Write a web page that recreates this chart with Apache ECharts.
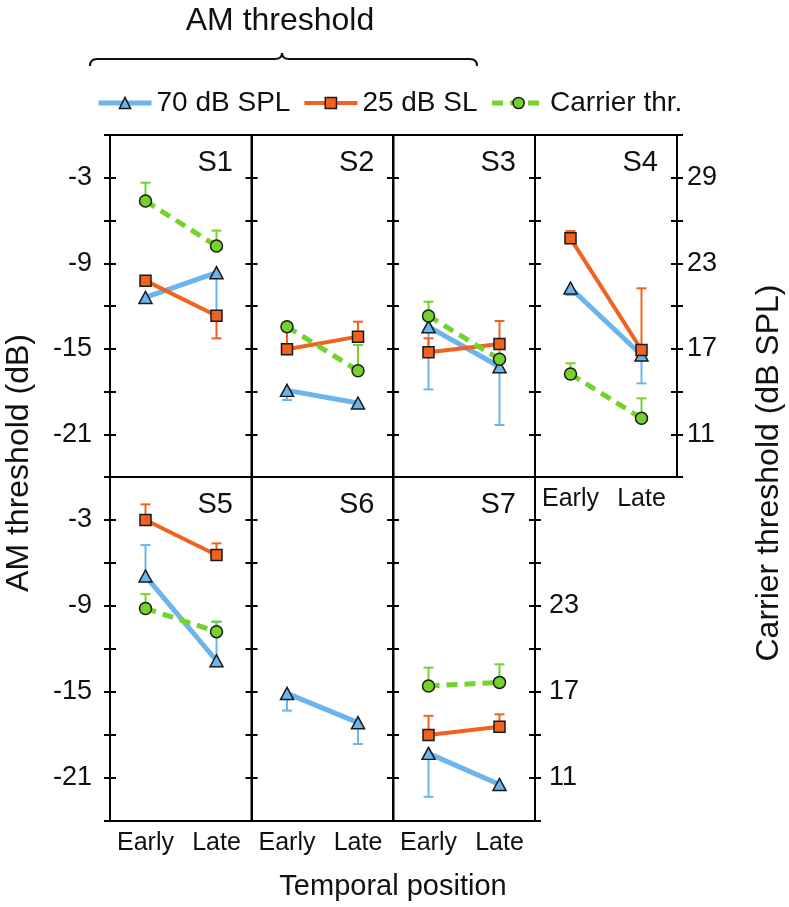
<!DOCTYPE html>
<html>
<head>
<meta charset="utf-8">
<script src="https://cdn.jsdelivr.net/npm/echarts@6/dist/echarts.min.js"></script>
<style>html,body{margin:0;padding:0;background:#fff}#c{width:789px;height:907px}</style>
</head>
<body>
<div id="c"></div>
<script>
// ---------- data ----------
const categories = ['Early', 'Late'];
const subjects = ['S1', 'S2', 'S3', 'S4', 'S5', 'S6', 'S7'];
const seriesNames = ['70 dB SPL', '25 dB SL', 'Carrier thr.'];
// AM threshold (dB), 70 dB SPL carrier
const am70 = [[-11.4, -9.66], [-17.92, -18.81], [-13.45, -16.26], [-10.74, -15.44], [-6.91, -12.82], [-15.1, -17.14], [-19.28, -21.45]];
const am70Err = [[null, -12.4], [-18.6, null], [-17.85, -20.35], [-11.23, -17.43], [-4.75, -10.1], [-16.3, -18.63], [-22.31, -21.84]];
// AM threshold (dB), 25 dB SL carrier
const am25 = [[-10.22, -12.68], [-15.04, -14.15], [-15.25, -14.67], [-7.25, -15.09], [-3.0, -5.44], null, [-18.0, -17.42]];
const am25Err = [[null, -14.27], [-13.6, -13.1], [-14.27, -13.05], [-6.74, -10.76], [-1.91, -4.63], null, [-16.66, -16.56]];
// Carrier threshold (dB SPL)
const carrier = [[27.37, 24.21], [18.55, 15.46], [19.3, 16.26], [15.23, 12.12], [22.83, 21.21], null, [17.42, 17.67]];
const carrierErr = [[28.65, 25.29], [null, 17.26], [20.3, 17.0], [15.98, 13.52], [23.83, 21.91], null, [18.7, 18.93]];
// tick labels
const amTickLabels = [-3, -9, -15, -21];
const carrierTickLabels = [11, 17, 23, 29];

// ---------- styling / layout ----------
const FONT = 'Liberation Sans';
const INK = '#111';
const colors = ['#6cb4ee', '#f0621f', '#74d22a'];
const lineWidths = [5, 4, 5];
const lineTypes = ['solid', 'solid', [11, 7]];
const colLeft = [110, 251.5, 393, 535];
const colW = 142;
const rowTop = [135, 477];
const rowH = [342, 344];

const chart = echarts.init(document.getElementById('c'), null, {renderer: 'canvas'});

const grids = [], xAxes = [], yAxes = [], series = [], graphics = [];

function errRenderer(color) {
  return function (params, api) {
    const p0 = api.coord([api.value(0), api.value(1)]);
    const p1 = api.coord([api.value(0), api.value(2)]);
    const hw = 5;
    return {
      type: 'group',
      children: [
        {type: 'line', shape: {x1: p0[0], y1: p0[1], x2: p1[0], y2: p1[1]}, style: {stroke: color, lineWidth: 2}},
        {type: 'line', shape: {x1: p1[0] - hw, y1: p1[1], x2: p1[0] + hw, y2: p1[1]}, style: {stroke: color, lineWidth: 2}}
      ]
    };
  };
}

subjects.forEach((s, p) => {
  const row = p < 4 ? 0 : 1;
  const col = p < 4 ? p : p - 4;
  grids.push({left: colLeft[col], top: rowTop[row], width: colW, height: rowH[row],
    show: true, borderColor: '#000', borderWidth: 2, backgroundColor: 'transparent'});
  xAxes.push({
    type: 'category', gridIndex: p, data: categories, boundaryGap: true,
    axisLine: {show: false}, axisTick: {show: false}, splitLine: {show: false},
    axisLabel: {show: p >= 3, fontSize: 25, fontFamily: FONT, color: INK, margin: 10, interval: 0}
  });
  const base = yAxes.length;
  yAxes.push({
    type: 'value', gridIndex: p, position: 'left', min: -24, max: 0, interval: 3,
    axisLine: {show: false}, splitLine: {show: false},
    axisTick: {show: true, inside: false, length: 6, lineStyle: {color: '#000', width: 2}},
    axisLabel: {show: col === 0, fontSize: 27, fontFamily: FONT, color: INK, margin: 18,
      formatter: v => amTickLabels.includes(v) ? String(v) : ''}
  });
  yAxes.push({
    type: 'value', gridIndex: p, position: 'left', min: -24, max: 0, interval: 3,
    axisLine: {show: false}, splitLine: {show: false}, axisLabel: {show: false},
    axisTick: {show: true, inside: true, length: 6, lineStyle: {color: '#000', width: 2}}
  });
  const rightShow = (p === 3 || p === 6);
  const rightLabels = p === 3 ? carrierTickLabels : carrierTickLabels.slice(0, 3);
  yAxes.push({
    type: 'value', gridIndex: p, position: 'right', min: 8, max: 32, interval: 3,
    axisLine: {show: false}, splitLine: {show: false},
    axisTick: {show: rightShow, inside: false, length: 6, lineStyle: {color: '#000', width: 2}},
    axisLabel: {show: rightShow, fontSize: 27, fontFamily: FONT, color: INK, margin: p === 3 ? 10 : 14,
      formatter: v => rightLabels.includes(v) ? String(v) : ''}
  });
  yAxes.push({
    type: 'value', gridIndex: p, position: 'right', min: 8, max: 32, interval: 3,
    axisLine: {show: false}, splitLine: {show: false}, axisLabel: {show: false},
    axisTick: {show: rightShow, inside: true, length: 6, lineStyle: {color: '#000', width: 2}}
  });

  const groups = [
    {vals: am70[p], errs: am70Err[p], yIdx: base, symbol: 'triangle', size: [13, 12]},
    {vals: am25[p], errs: am25Err[p], yIdx: base, symbol: 'rect', size: 11},
    {vals: carrier[p], errs: carrierErr[p], yIdx: base + 2, symbol: 'circle', size: 12}
  ];
  groups.forEach((g, gi) => {
    if (!g.vals) return;
    const errData = [];
    g.errs.forEach((e, i) => { if (e !== null) errData.push([i, g.vals[i], e]); });
    series.push({
      type: 'custom', name: 'err' + gi, xAxisIndex: p, yAxisIndex: g.yIdx, z: 1,
      renderItem: errRenderer(colors[gi]), data: errData, encode: {x: 0, y: [1, 2]}, silent: true
    });
    series.push({
      type: 'line', name: seriesNames[gi], xAxisIndex: p, yAxisIndex: g.yIdx, z: 2 + gi,
      data: g.vals, symbol: g.symbol, symbolSize: g.size, showSymbol: true,
      lineStyle: {color: colors[gi], width: lineWidths[gi], type: lineTypes[gi]},
      itemStyle: {color: colors[gi], borderColor: '#1a1a1a', borderWidth: 1.5},
      emphasis: {disabled: true}, animation: false
    });
  });

  graphics.push({
    type: 'text', x: colLeft[col] + colW - 19, y: rowTop[row] + 28,
    style: {text: s, fontSize: 29, fontFamily: FONT, fill: INK, textAlign: 'right', textVerticalAlign: 'middle'}
  });
});

// titles & brace
const braceStyle = {stroke: INK, lineWidth: 2, fill: null};
graphics.push({type: 'text', x: 280, y: 21,
  style: {text: 'AM threshold', fontSize: 32, fontFamily: FONT, fill: INK, textAlign: 'center', textVerticalAlign: 'middle'}});
graphics.push({type: 'bezierCurve', shape: {x1: 90, y1: 66, cpx1: 90, cpy1: 59, x2: 97, y2: 59}, style: braceStyle});
graphics.push({type: 'line', shape: {x1: 97, y1: 59, x2: 275, y2: 59}, style: braceStyle});
graphics.push({type: 'bezierCurve', shape: {x1: 275, y1: 59, cpx1: 282, cpy1: 59, x2: 282, y2: 53}, style: braceStyle});
graphics.push({type: 'bezierCurve', shape: {x1: 282, y1: 53, cpx1: 282, cpy1: 59, x2: 289, y2: 59}, style: braceStyle});
graphics.push({type: 'line', shape: {x1: 289, y1: 59, x2: 470, y2: 59}, style: braceStyle});
graphics.push({type: 'bezierCurve', shape: {x1: 470, y1: 59, cpx1: 477, cpy1: 59, x2: 477, y2: 66}, style: braceStyle});
graphics.push({type: 'text', x: 19, y: 463, rotation: Math.PI / 2,
  style: {text: 'AM threshold (dB)', fontSize: 32, fontFamily: FONT, fill: INK, textAlign: 'center', textVerticalAlign: 'middle'}});
graphics.push({type: 'text', x: 769, y: 473, rotation: Math.PI / 2,
  style: {text: 'Carrier threshold (dB SPL)', fontSize: 32, fontFamily: FONT, fill: INK, textAlign: 'center', textVerticalAlign: 'middle'}});
graphics.push({type: 'text', x: 393, y: 887,
  style: {text: 'Temporal position', fontSize: 29, fontFamily: FONT, fill: INK, textAlign: 'center', textVerticalAlign: 'middle'}});

chart.setOption({
  animation: false,
  backgroundColor: '#fff',
  grid: grids,
  xAxis: xAxes,
  yAxis: yAxes,
  series: series,
  legend: {
    data: seriesNames.map((n, i) => ({name: n, lineStyle: {width: lineWidths[i], type: lineTypes[i]},
      itemStyle: {borderWidth: 1.5, borderColor: '#1a1a1a'}})),
    left: 91, top: 84, itemWidth: 53, itemHeight: 14, itemGap: 12,
    textStyle: {fontSize: 28, fontFamily: FONT, color: INK}, selectedMode: false
  },
  graphic: graphics
});
</script>
</body>
</html>
